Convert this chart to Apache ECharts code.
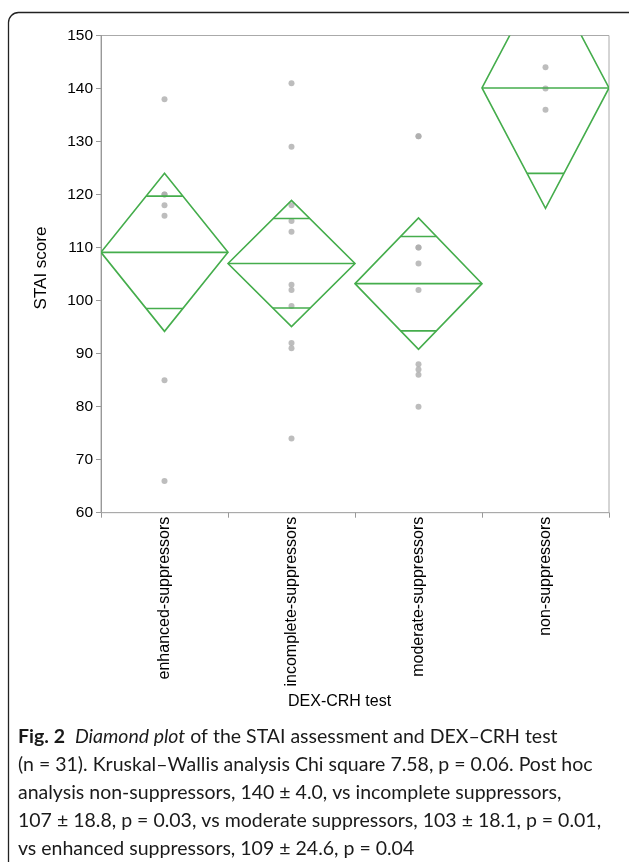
<!DOCTYPE html>
<html>
<head>
<meta charset="utf-8">
<script src="https://cdn.jsdelivr.net/npm/echarts@6/dist/echarts.min.js"></script>
<style>
  html, body { margin: 0; padding: 0; background: #fff; }
  #chart { width: 629px; height: 862px; }
</style>
</head>
<body>
<div id="chart"></div>
<script>
// ---- data ----
const categories = ['enhanced-suppressors', 'incomplete-suppressors', 'moderate-suppressors', 'non-suppressors'];
const enhancedValues = [138, 120, 120, 118, 116, 85, 66];
const incompleteValues = [141, 129, 118, 115, 113, 103, 102, 99, 92, 91, 74];
const moderateValues = [131, 131, 110, 110, 107, 102, 88, 87, 86, 80];
const nonValues = [144, 140, 136];
// diamond: group mean, 95% CI lower/upper, overlap marks lower/upper
const groupMeans = [109.1, 107.0, 103.2, 140.1];
const ciLower = [94.2, 95.1, 90.8, 117.4];
const ciUpper = [124.0, 118.9, 115.6, 162.8];
const markLower = [98.5, 98.6, 94.3, 124.0];
const markUpper = [119.7, 115.5, 112.1, 156.2];
const yTicks = { min: 60, max: 150, interval: 10 };
const yAxisTitle = 'STAI score';
const xAxisTitle = 'DEX-CRH test';
const captionLines = [
  '{b|Fig. 2}  {i|Diamond plot}{r| of the STAI assessment and DEX–CRH test}',
  '(n = 31). Kruskal–Wallis analysis Chi square 7.58, p = 0.06. Post hoc',
  'analysis non-suppressors, 140 ± 4.0, vs incomplete suppressors,',
  '107 ± 18.8, p = 0.03, vs moderate suppressors, 103 ± 18.1, p = 0.01,',
  'vs enhanced suppressors, 109 ± 24.6, p = 0.04'
];

// ---- build ----
const groups = [enhancedValues, incompleteValues, moderateValues, nonValues];
const scatterData = [];
groups.forEach((vals, gi) => vals.forEach(v => scatterData.push([gi, v])));
const diamondData = groupMeans.map((m, i) => [i, m, ciLower[i], ciUpper[i], markLower[i], markUpper[i]]);

const GREEN = '#45ad4c';

function renderDiamond(params, api) {
  const idx = api.value(0);
  const mean = api.value(1), lo = api.value(2), hi = api.value(3);
  const mLo = api.value(4), mHi = api.value(5);
  const c = api.coord([idx, mean]);
  const w = api.size([1, 0])[0];
  const half = w / 2;
  const yHi = api.coord([idx, hi])[1];
  const yLo = api.coord([idx, lo])[1];
  const yMLo = api.coord([idx, mLo])[1];
  const yMHi = api.coord([idx, mHi])[1];
  const halfAt = (val, edge) => half * (1 - (val - mean) / (edge - mean));
  const hwHi = halfAt(mHi, hi);
  const hwLo = halfAt(mLo, lo);
  const st = { stroke: GREEN, lineWidth: 1.6, fill: null };
  return {
    type: 'group',
    children: [
      { type: 'polygon', shape: { points: [[c[0] - half, c[1]], [c[0], yHi], [c[0] + half, c[1]], [c[0], yLo]] }, style: st },
      { type: 'line', shape: { x1: c[0] - half, y1: c[1], x2: c[0] + half, y2: c[1] }, style: st },
      { type: 'line', shape: { x1: c[0] - hwHi, y1: yMHi, x2: c[0] + hwHi, y2: yMHi }, style: st },
      { type: 'line', shape: { x1: c[0] - hwLo, y1: yMLo, x2: c[0] + hwLo, y2: yMLo }, style: st }
    ]
  };
}

const chart = echarts.init(document.getElementById('chart'), null, { renderer: 'canvas' });
const labelFont = '"Liberation Sans", Arial, sans-serif';
const capFont = 'Lato, "Open Sans", sans-serif';
const capSize = 19.5;
const capLH = 28;

chart.setOption({
  animation: false,
  backgroundColor: '#fff',
  grid: { left: 101, right: 20, top: 35.5, bottom: 349.3, show: true, borderColor: '#aaa', borderWidth: 1 },
  xAxis: {
    type: 'category',
    data: categories,
    boundaryGap: true,
    axisLine: { show: true, lineStyle: { color: '#aaa', width: 1 } },
    axisTick: { show: true, length: 5, lineStyle: { color: '#999' } },
    axisLabel: { rotate: 90, margin: 4, fontSize: 16, color: '#000', fontFamily: labelFont },
    splitLine: { show: false }
  },
  yAxis: {
    type: 'value',
    min: yTicks.min, max: yTicks.max, interval: yTicks.interval,
    axisLine: { show: true, lineStyle: { color: '#999', width: 1 } },
    axisTick: { show: true, length: 5, lineStyle: { color: '#999' } },
    axisLabel: { margin: 8, fontSize: 15.5, color: '#000', fontFamily: labelFont },
    splitLine: { show: false }
  },
  series: [
    {
      type: 'scatter',
      data: scatterData,
      symbol: 'circle',
      symbolSize: 6,
      itemStyle: { color: '#adadad' },
      z: 2
    },
    {
      type: 'custom',
      data: diamondData,
      renderItem: renderDiamond,
      clip: true,
      z: 3
    }
  ],
  graphic: [
    {
      type: 'rect',
      shape: { x: 8.5, y: 12.5, width: 640, height: 880, r: 10 },
      style: { fill: null, stroke: '#222', lineWidth: 1.3 },
      silent: true
    },
    {
      type: 'text',
      x: 41, y: 268, rotation: Math.PI / 2,
      style: { text: yAxisTitle, font: '17px ' + labelFont, fill: '#000', align: 'center', verticalAlign: 'middle' }
    },
    {
      type: 'text',
      left: 288, top: 694,
      style: { text: xAxisTitle, font: '16px ' + labelFont, fill: '#000' }
    },
    {
      type: 'text',
      left: 18, top: 723,
      style: {
        text: captionLines.join('\n'),
        font: capSize + 'px ' + capFont,
        fill: '#1a1a1a',
        lineHeight: capLH,
        rich: {
          b: { fontWeight: 'bold', fontSize: capSize, fontFamily: capFont, fill: '#1a1a1a', lineHeight: capLH },
          i: { fontStyle: 'italic', fontSize: capSize, fontFamily: capFont, fill: '#1a1a1a', lineHeight: capLH },
          r: { fontSize: capSize, fontFamily: capFont, fill: '#1a1a1a', lineHeight: capLH }
        }
      }
    }
  ]
});
</script>
</body>
</html>
